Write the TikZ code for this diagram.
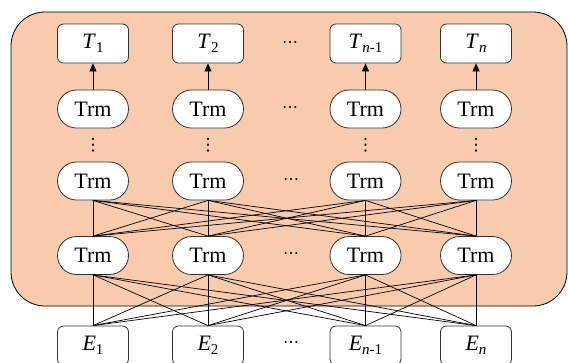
\documentclass[tikz,border=0pt]{standalone}
\usepackage{fontspec}
\setmainfont{Liberation Serif}
\newfontfamily\symfont{DejaVu Sans}
\usetikzlibrary{arrows.meta}
% token label: italic letter with an upright subscript
\newcommand{\tok}[2]{\textit{#1}\raisebox{-0.4ex}{\fontsize{15}{15}\selectfont #2}}
\begin{document}
\begin{tikzpicture}[x=1pt,y=-1pt,
  box/.style={draw=black!80, fill=white, line width=0.8pt, minimum width=71pt,
    minimum height=39pt, rounded corners=6pt, inner sep=0pt,
    font=\fontsize{22}{22}\selectfont},
  trm/.style={box, rounded corners=19pt, minimum height=38pt},
  link/.style={line width=0.7pt, black},
  up/.style={line width=0.8pt, black, -{Triangle[length=8pt,width=7pt]}},
  hdots/.style={font=\symfont\fontsize{16}{16}\selectfont, inner sep=0pt},
  vdots/.style={font=\symfont\fontsize{17}{17}\selectfont, inner sep=0pt},
]
\useasboundingbox (0,0) rectangle (568,362);

% encoder panel
\draw[fill={rgb,255:red,248;green,203;blue,173}, line width=0.8pt, rounded corners=34pt]
  (11,12) rectangle (567,306);

% columns
\foreach \n/\x/\s in {1/93/1, 2/208/2, 3/365.5/\textit{n}-1, 4/476/\textit{n}} {
  \node[box] (T\n) at (\x,43.5) {\tok{T}{\s}};
  \node[trm] (A\n) at (\x,109) {Trm};
  \node[vdots] (V\n) at (\x,145.5) {⋮};
  \node[trm] (B\n) at (\x,181) {Trm};
  \node[trm] (C\n) at (\x,255.5) {Trm};
  \node[box] (E\n) at (\x,345.5) {\tok{E}{\s}};
  \draw[up] (A\n) -- (T\n);
}

% ellipses between columns
\node[hdots] (H1) at (290,45) {⋯};
\node[hdots] (H2) at (290,110) {⋯};
\node[hdots] (H3) at (291,182) {⋯};
\node[hdots] (H4) at (291,256) {⋯};
\node[hdots] (H5) at (291,345) {⋯};

% fully connected layers
\foreach \i in {1,...,4} {
  \foreach \j in {1,...,4} {
    \draw[link] (B\i.south) -- (C\j.north);
    \draw[link] (C\i.south) -- (E\j.north);
  }
}
\end{tikzpicture}
\end{document}
